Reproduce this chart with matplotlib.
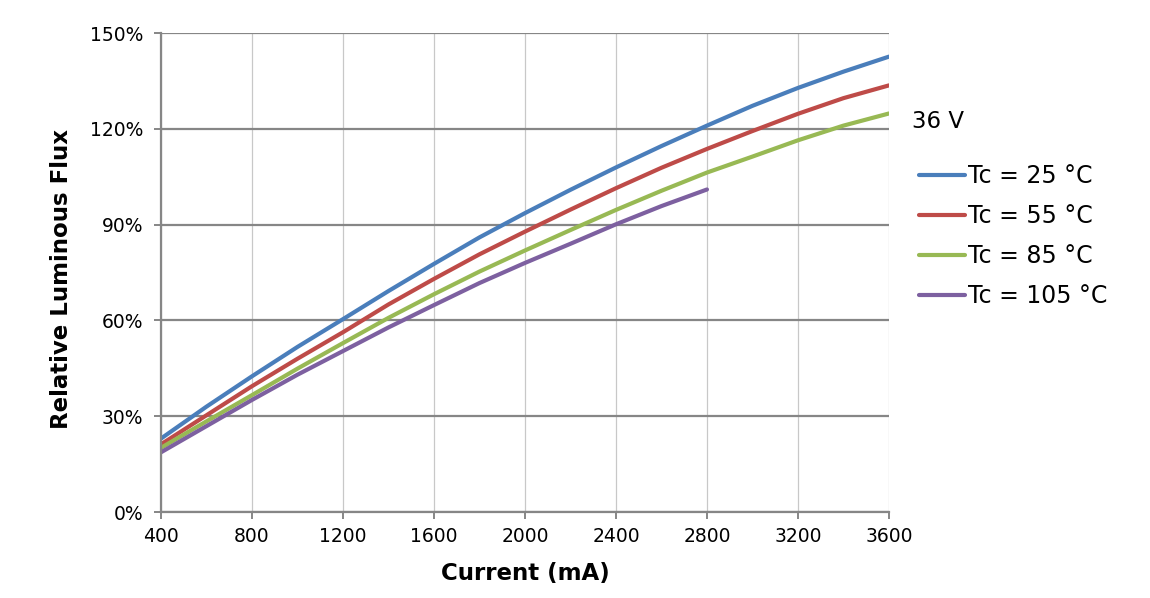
import numpy as np
import matplotlib
matplotlib.use("Agg")
import matplotlib.pyplot as plt
import matplotlib.ticker as mticker

# current in mA, relative flux in % (every 200 mA)
current = [400, 600, 800, 1000, 1200, 1400, 1600, 1800, 2000,
           2200, 2400, 2600, 2800, 3000, 3200, 3400, 3600]
tc25 = [23.0, 33.0, 42.5, 51.7, 60.4, 69.2, 77.7, 86.0, 93.6,
        100.9, 107.9, 114.6, 121.0, 127.2, 132.8, 137.9, 142.6]
tc55 = [21.2, 30.3, 39.4, 48.0, 56.3, 65.0, 73.0, 80.7, 87.8,
        94.7, 101.4, 107.8, 113.7, 119.3, 124.7, 129.6, 133.6]
tc85 = [20.1, 28.4, 36.6, 44.9, 52.9, 60.8, 68.2, 75.3, 81.9,
        88.3, 94.6, 100.6, 106.3, 111.3, 116.4, 121.0, 124.8]
current105 = [400, 600, 800, 1000, 1200, 1400, 1600, 1800, 2000,
              2200, 2400, 2600, 2800]
tc105 = [18.7, 26.9, 35.1, 43.0, 50.4, 57.8, 64.8, 71.7, 78.0,
         84.0, 90.1, 95.8, 101.0]

labels = ['Tc = 25 °C', 'Tc = 55 °C', 'Tc = 85 °C', 'Tc = 105 °C']
colors = ['#4a7ebb', '#be4b48', '#98b954', '#7d60a0']

plt.rcParams['font.family'] = 'DejaVu Sans'

fig = plt.figure(figsize=(11.5, 5.98), dpi=100)
ax = fig.add_axes([0.14, 0.1438, 0.633, 0.801])

kw = dict(lw=3, solid_capstyle='round', solid_joinstyle='round')
ax.plot(current, tc25, color=colors[0], label=labels[0], **kw)
ax.plot(current, tc55, color=colors[1], label=labels[1], **kw)
ax.plot(current, tc85, color=colors[2], label=labels[2], **kw)
ax.plot(current105, tc105, color=colors[3], label=labels[3], **kw)

ax.set_xlim(400, 3600)
ax.set_ylim(0, 150)
ax.set_xticks(np.arange(400, 3601, 400))
ax.set_yticks(np.arange(0, 151, 30))
ax.yaxis.set_major_formatter(mticker.FuncFormatter(lambda v, p: '%d%%' % v))

# grid: heavy horizontal, light vertical
ax.set_axisbelow(True)
ax.yaxis.grid(True, color='#868686', lw=1.6)
ax.xaxis.grid(True, color='#c8c8c8', lw=0.9)

for s in ['top', 'right']:
    ax.spines[s].set_visible(False)
for s in ['left', 'bottom']:
    ax.spines[s].set_color('#868686')
    ax.spines[s].set_linewidth(1.6)

ax.tick_params(axis='both', direction='out', length=5, width=1.4,
               color='#868686', labelsize=13.5)
ax.tick_params(axis='y', pad=8)
ax.tick_params(axis='x', pad=5.5)

ax.set_xlabel('Current (mA)', fontsize=16.5, fontweight='bold')
ax.set_ylabel('Relative Luminous Flux', fontsize=16.5, fontweight='bold')
ax.xaxis.set_label_coords(0.5, -0.104)
ax.yaxis.set_label_coords(-0.121, 0.486)

fig.text(0.793, 0.797, '36 V', fontsize=16.5, ha='left', va='center')

fig.legend(loc='center left', bbox_to_anchor=(0.799, 0.605), frameon=False,
           fontsize=17, handlelength=1.95, handletextpad=0.15,
           labelspacing=0.68, borderpad=0, borderaxespad=0)

fig.savefig('out.png', dpi=100)
